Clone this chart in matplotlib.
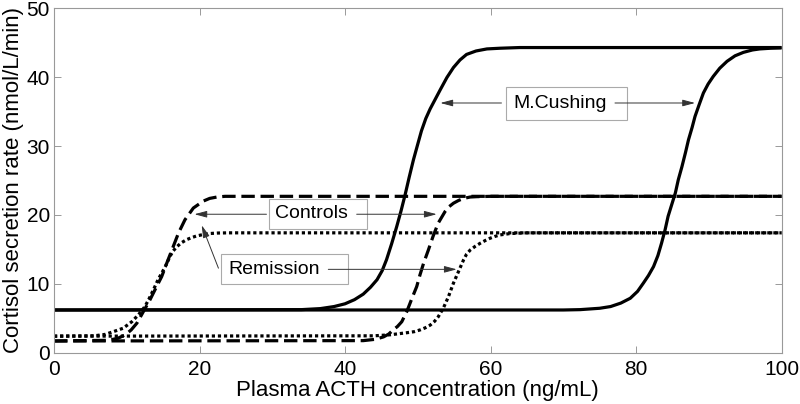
import matplotlib
matplotlib.use("Agg")
import matplotlib.pyplot as plt
from matplotlib.patches import Rectangle

plt.rcParams['font.family'] = ['Liberation Sans', 'DejaVu Sans']

# ---- data ----
# M.Cushing (solid)
cush1_x = [0, 34, 36.6, 38.5, 40.0, 41.3, 42.5, 43.5, 44.4, 45.1, 45.7, 46.4, 47.1, 47.7, 48.25, 48.8,
           49.4, 50.0, 50.5, 51.1, 51.7, 52.4, 53.1, 54.0, 54.9, 55.8, 56.7, 58.0, 59.5, 61.3, 64, 100]
cush1_y = [6.2, 6.25, 6.4, 6.7, 7.1, 7.7, 8.5, 9.5, 10.6, 11.9, 13.5, 15.8, 18.3, 20.6, 22.9, 25.4,
           28.0, 30.3, 32.2, 34.0, 35.4, 36.8, 38.2, 39.95, 41.4, 42.5, 43.3, 43.8, 44.1, 44.2, 44.3, 44.3]
cush2_x = [0, 70, 72.3, 75.0, 76.5, 77.9, 79.2, 80.2, 81.0, 81.7, 82.4, 83.0, 83.5, 84.0, 84.4, 84.9,
           85.4, 85.8, 86.3, 86.8, 87.2, 87.7, 88.1, 88.7, 89.25, 89.9, 90.6, 91.5, 92.5, 93.6, 94.75,
           96.0, 97.0, 98.5, 100]
cush2_y = [6.2, 6.2, 6.25, 6.45, 6.7, 7.2, 7.9, 8.9, 10.1, 11.2, 12.5, 14.1, 15.9, 17.9, 19.8, 21.5,
           23.2, 25.1, 27.0, 29.1, 30.9, 32.7, 34.3, 36.1, 37.7, 39.0, 40.1, 41.3, 42.3, 43.1, 43.6,
           43.95, 44.1, 44.2, 44.25]

# Controls (dashed)
ctrl1_x = [0, 7.5, 8.8, 9.8, 10.6, 11.4, 12.3, 13.2, 14.1, 14.8, 15.5, 16.2, 17.1, 18.0, 19.15, 20.5,
           21.4, 22.4, 23.5, 25, 100]
ctrl1_y = [1.7, 1.8, 2.1, 2.6, 3.3, 4.3, 6.0, 7.7, 9.6, 11.05, 13.0, 14.9, 17.35, 19.3, 21.0, 22.0,
           22.4, 22.6, 22.7, 22.7, 22.7]
ctrl2_x = [0, 42.5, 44.2, 45.3, 46.0, 46.6, 47.2, 47.8, 48.5, 49.2, 49.85, 50.3, 50.8, 51.45, 52.1,
           52.8, 53.75, 54.3, 54.9, 55.6, 56.3, 57.2, 58.1, 60, 100]
ctrl2_y = [1.7, 1.75, 1.95, 2.3, 2.7, 3.3, 3.8, 4.5, 6.0, 7.9, 9.6, 11.3, 13.0, 14.9, 16.9,
           18.8, 20.5, 21.2, 21.7, 22.1, 22.4, 22.6, 22.65, 22.7, 22.7]

# Remission (dotted)
rem1_x = [0, 5.5, 7.0, 8.15, 9.5, 10.7, 11.6, 12.5, 13.1, 13.65, 14.3, 15.3, 15.95, 16.4, 16.9, 17.5,
          18.2, 18.9, 19.6, 20.5, 21.4, 22.5, 24.0, 100]
rem1_y = [2.4, 2.45, 2.65, 3.05, 3.55, 4.5, 5.5, 6.7, 7.9, 9.1, 10.6, 12.5, 14.0, 14.8, 15.4, 15.95,
          16.4, 16.7, 16.95, 17.15, 17.3, 17.37, 17.4, 17.4]
rem2_x = [0, 44, 46.2, 48.5, 49.5, 50.3, 51.0, 51.7, 52.3, 52.8, 53.5, 54.2, 54.9, 55.6, 56.3, 56.7,
          57.2, 57.9, 58.6, 59.3, 59.9, 60.6, 61.3, 62.7, 65, 100]
rem2_y = [2.4, 2.45, 2.6, 2.9, 3.05, 3.3, 3.6, 4.0, 4.55, 5.2, 6.45, 8.1, 10.1, 11.8, 13.5, 14.3,
          14.9, 15.45, 15.9, 16.3, 16.6, 16.88, 17.1, 17.3, 17.4, 17.4]

x_ticks = [0, 20, 40, 60, 80, 100]
y_ticks = [0, 10, 20, 30, 40, 50]

fig = plt.figure(figsize=(8.0, 4.04), dpi=100)
ax = fig.add_axes([0.0675, 0.127, 0.9095, 0.8525])

lw = 2.3
ax.plot(cush1_x, cush1_y, color='black', lw=lw, solid_capstyle='butt', solid_joinstyle='round')
ax.plot(cush2_x, cush2_y, color='black', lw=lw, solid_capstyle='butt', solid_joinstyle='round')
ax.plot(ctrl1_x, ctrl1_y, color='black', lw=lw, dashes=(4.2, 1.8), dash_capstyle='butt')
ax.plot(ctrl2_x, ctrl2_y, color='black', lw=lw, dashes=(4.2, 1.8), dash_capstyle='butt')
ax.plot(rem1_x, rem1_y, color='black', lw=lw, dashes=(1.0, 0.9), dash_capstyle='butt')
ax.plot(rem2_x, rem2_y, color='black', lw=lw, dashes=(1.0, 0.9), dash_capstyle='butt')

ax.set_xlim(0, 100)
ax.set_ylim(0, 50)
ax.set_xticks(x_ticks)
ax.set_yticks(y_ticks)
ax.tick_params(direction='in', length=5, width=0.7, color='#999999', labelsize=15,
               top=True, right=True, pad=5)
ax.tick_params(axis='y', pad=3)
for s in ax.spines.values():
    s.set_color('#999999')
    s.set_linewidth(0.8)

ax.set_xlabel('Plasma ACTH concentration (ng/mL)', fontsize=16, labelpad=1)
ax.set_ylabel('Cortisol secretion rate (nmol/L/min)', fontsize=16, labelpad=2)

# ---- annotations ----
arrow_kw = dict(arrowstyle='-|>,head_length=0.75,head_width=0.2', color='#333333',
                lw=0.7, shrinkA=0, shrinkB=0)
edge = '#aaaaaa'

def box(x0, y0, x1, y1):
    ax.add_patch(Rectangle((x0, y0), x1 - x0, y1 - y0, facecolor='white',
                           edgecolor=edge, lw=0.8, zorder=3))

def arrow(xt, yt, xh, yh):
    ax.annotate('', xy=(xh, yh), xytext=(xt, yt), arrowprops=arrow_kw, zorder=4)

# M.Cushing
arrow(61.5, 36.25, 53.1, 36.25)
arrow(77.1, 36.25, 88.1, 36.25)
box(62.1, 33.8, 78.8, 38.6)
ax.text(63.1, 36.2, 'M.Cushing', fontsize=14, ha='left', va='center', zorder=5)

# Controls
arrow(29.2, 20.1, 19.3, 20.1)
box(29.55, 17.98, 43.0, 22.34)
arrow(41.6, 20.1, 52.6, 20.1)
ax.text(30.4, 20.15, 'Controls', fontsize=14, ha='left', va='center', zorder=5)

# Remission
arrow(22.6, 12.27, 20.3, 18.5)
box(22.9, 9.99, 40.45, 14.35)
arrow(37.7, 12.1, 55.35, 12.1)
ax.text(23.9, 12.15, 'Remission', fontsize=14, ha='left', va='center', zorder=5)

fig.savefig('out.png', dpi=100)
